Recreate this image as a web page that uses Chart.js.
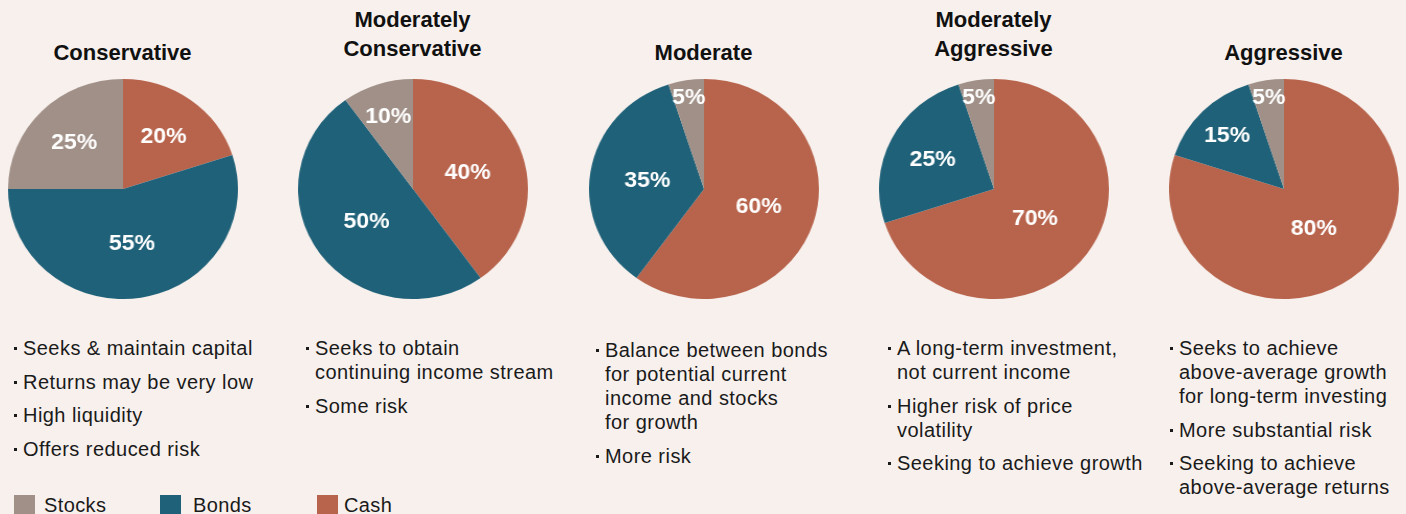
<!DOCTYPE html>
<html>
<head>
<meta charset="utf-8">
<script src="https://cdn.jsdelivr.net/npm/chart.js@4"></script>
<style>
  html, body { margin: 0; padding: 0; }
  body {
    width: 1406px; height: 514px; overflow: hidden; position: relative;
    background: #f7f0ed; font-family: "Liberation Sans", Arial, sans-serif; color: #1a1a1a;
  }
  .title {
    position: absolute; width: 260px; text-align: center;
    font-weight: bold; font-size: 22px; line-height: 29px; color: #111;
  }
  canvas.pie { position: absolute; transform: scaleX(1.045); transform-origin: center; }
  ul.notes {
    position: absolute; margin: 0; padding: 0; list-style: none;
    font-size: 20px; line-height: 24px; letter-spacing: 0.45px; white-space: nowrap;
  }
  ul.notes li { position: relative; padding-left: 9px; margin-bottom: 9.5px; }
  ul.notes li::before {
    content: ""; position: absolute; left: 0; top: 11px; width: 3px; height: 3px; background: #1a1a1a;
  }
  .legend { position: absolute; top: 495px; font-size: 20px; letter-spacing: 0.4px; }
  .legend span.box { position: absolute; top: 0; width: 21px; height: 21px; }
  .legend span.lab { position: absolute; top: -1px; white-space: nowrap; }
</style>
</head>
<body>
<script>
const categories = ['Stocks', 'Bonds', 'Cash'];
const categoryColors = ['#a09087', '#1f6178', '#b8644c'];

const profiles = [['Conservative'], ['Moderately', 'Conservative'], ['Moderate'], ['Moderately', 'Aggressive'], ['Aggressive']];
const cashValues = [20, 40, 60, 70, 80];
const bondValues = [55, 50, 35, 25, 15];
const stockValues = [25, 10, 5, 5, 5];

const notes = [
  ['Seeks & maintain capital', 'Returns may be very low', 'High liquidity', 'Offers reduced risk'],
  ['Seeks to obtain<br>continuing income stream', 'Some risk'],
  ['Balance between bonds<br>for potential current<br>income and stocks<br>for growth', 'More risk'],
  ['A long-term investment,<br>not current income', 'Higher risk of price<br>volatility', 'Seeking to achieve growth'],
  ['Seeks to achieve<br>above-average growth<br>for long-term investing', 'More substantial risk', 'Seeking to achieve<br>above-average returns']
];

// layout
const pieCenters = [122.5, 412.5, 703.5, 993.5, 1283.5];
const pieTop = 79;
const pieSize = 220;
const noteLeft = [14, 306, 596, 888, 1170];
const noteTop = [336, 336, 338, 336, 336];

const sliceLabels = {
  id: 'sliceLabels',
  afterDatasetsDraw(chart) {
    const ctx = chart.ctx;
    const meta = chart.getDatasetMeta(0);
    const values = chart.data.datasets[0].data;
    ctx.save();
    ctx.font = 'bold 22px "Liberation Sans", Arial, sans-serif';
    ctx.fillStyle = '#ffffff';
    ctx.textAlign = 'center';
    ctx.textBaseline = 'middle';
    meta.data.forEach((arc, i) => {
      const p = arc.getProps(['x', 'y', 'startAngle', 'endAngle', 'outerRadius'], true);
      const mid = (p.startAngle + p.endAngle) / 2;
      const v = values[i];
      const k = v <= 5 ? 0.85 : v <= 15 ? 0.7 : v <= 25 ? 0.6 : v < 70 ? 0.5 : 0.44;
      ctx.fillText(v + '%', p.x + Math.cos(mid) * p.outerRadius * k, p.y + Math.sin(mid) * p.outerRadius * k + 1);
    });
    ctx.restore();
  }
};

profiles.forEach((name, i) => {
  const t = document.createElement('div');
  t.className = 'title';
  t.style.left = (pieCenters[i] - 130) + 'px';
  t.style.top = (name.length > 1 ? 5 : 38) + 'px';
  t.innerHTML = name.join('<br>');
  document.body.appendChild(t);

  const c = document.createElement('canvas');
  c.className = 'pie';
  c.width = pieSize;
  c.height = pieSize;
  c.style.left = (pieCenters[i] - pieSize / 2) + 'px';
  c.style.top = pieTop + 'px';
  document.body.appendChild(c);

  new Chart(c.getContext('2d'), {
    type: 'pie',
    data: {
      labels: ['Cash', 'Bonds', 'Stocks'],
      datasets: [{
        data: [cashValues[i], bondValues[i], stockValues[i]],
        backgroundColor: [categoryColors[2], categoryColors[1], categoryColors[0]],
        borderWidth: 0
      }]
    },
    options: {
      responsive: false,
      animation: false,
      layout: { padding: 0 },
      plugins: {
        legend: { display: false },
        tooltip: { enabled: false }
      }
    },
    plugins: [sliceLabels]
  });

  const ul = document.createElement('ul');
  ul.className = 'notes';
  ul.style.left = noteLeft[i] + 'px';
  ul.style.top = noteTop[i] + 'px';
  ul.innerHTML = notes[i].map(n => '<li>' + n + '</li>').join('');
  document.body.appendChild(ul);
});

const legendBoxX = [14, 160, 317];
const legendTextX = [44, 193, 344];
const legend = document.createElement('div');
legend.className = 'legend';
categories.forEach((cat, i) => {
  legend.innerHTML += '<span class="box" style="left:' + legendBoxX[i] + 'px;background:' + categoryColors[i] + '"></span>' +
    '<span class="lab" style="left:' + legendTextX[i] + 'px">' + cat + '</span>';
});
document.body.appendChild(legend);
</script>
</body>
</html>
